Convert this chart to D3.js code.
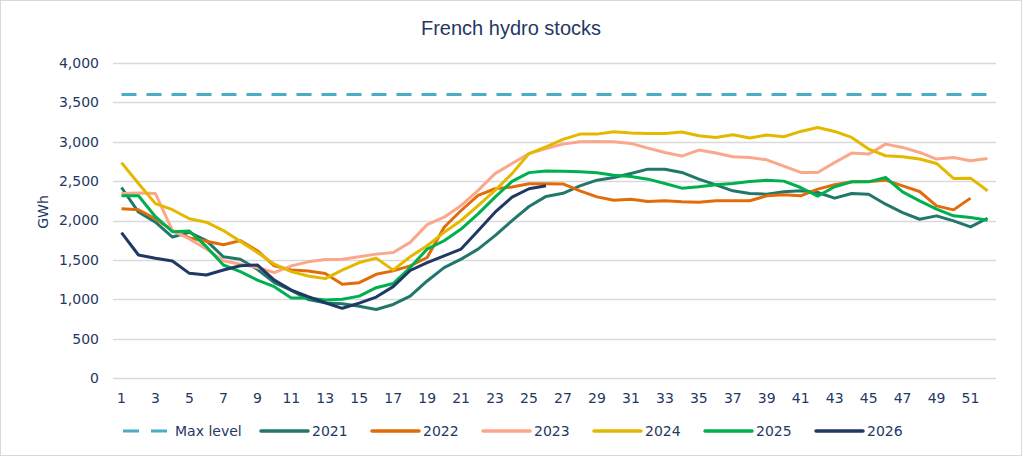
<!DOCTYPE html>
<html>
<head>
<meta charset="utf-8">
<script src="https://cdn.jsdelivr.net/npm/d3@7"></script>
<style>
  body { margin: 0; background: #fff; }
  text { fill: #1f3864; }
</style>
</head>
<body>
<script>
// chart data
var weeks = d3.range(1, 53);
var weekLabels = d3.range(1, 53, 2);
var yTicks = [0, 500, 1000, 1500, 2000, 2500, 3000, 3500, 4000];
var maxLevel = 3600;

var s2021 = [2419, 2107, 1979, 1790, 1851, 1744, 1539, 1509, 1381, 1211, 1112, 997, 954, 942,
  912, 870, 934, 1040, 1232, 1402, 1509, 1636, 1807, 1999, 2178, 2306, 2345,
  2440, 2512, 2546, 2597, 2652, 2652, 2610, 2525, 2453, 2377, 2343, 2334, 2366,
  2377, 2356, 2284, 2343, 2334, 2207, 2101, 2016, 2059, 1995, 1919, 2029];
var s2022 = [2150, 2137, 2022, 1872, 1778, 1736, 1693, 1744, 1616, 1424, 1373, 1360, 1326, 1190,
  1211, 1317, 1360, 1424, 1530, 1914, 2127, 2318, 2403, 2425, 2467, 2467, 2465,
  2377, 2300, 2258, 2271, 2241, 2250, 2237, 2233, 2250, 2250, 2250, 2313, 2326,
  2313, 2398, 2453, 2491, 2496, 2512, 2440, 2368, 2186, 2135, 2284, null];
var s2023 = [2342, 2350, 2342, 1872, 1766, 1637, 1488, 1445, 1403, 1339, 1424, 1475, 1505, 1509,
  1539, 1573, 1594, 1722, 1948, 2042, 2190, 2382, 2595, 2723, 2850, 2915, 2970,
  3000, 3004, 3000, 2979, 2919, 2864, 2818, 2894, 2856, 2809, 2801, 2771, 2690,
  2610, 2610, 2737, 2856, 2843, 2970, 2928, 2864, 2780, 2801, 2758, 2788];
var s2024 = [2735, 2470, 2214, 2137, 2022, 1979, 1872, 1735, 1595, 1445, 1351, 1296, 1262, 1370,
  1466, 1522, 1370, 1539, 1680, 1850, 2000, 2190, 2382, 2595, 2850, 2936, 3030,
  3097, 3097, 3127, 3110, 3106, 3106, 3123, 3076, 3055, 3089, 3047, 3085, 3064,
  3131, 3182, 3131, 3055, 2907, 2822, 2809, 2780, 2724, 2534, 2538, 2377];
var s2025 = [2315, 2315, 2048, 1858, 1866, 1667, 1435, 1350, 1244, 1160, 1016, 1016, 990, 1000,
  1040, 1147, 1200, 1402, 1637, 1743, 1892, 2084, 2297, 2497, 2608, 2629, 2625,
  2618, 2606, 2576, 2559, 2525, 2470, 2411, 2428, 2453, 2470, 2496, 2512, 2500,
  2419, 2310, 2428, 2491, 2491, 2546, 2364, 2250, 2144, 2059, 2038, 2004];
var s2026 = [1845, 1562, 1520, 1486, 1329, 1308, 1371, 1426, 1435, 1244, 1117, 1032, 956, 885,
  950, 1028, 1160, 1365, 1466, 1552, 1637, 1871, 2105, 2297, 2403, 2442];

var seriesNames = ["2021", "2022", "2023", "2024", "2025", "2026"];
var seriesValues = [s2021, s2022, s2023, s2024, s2025, s2026];
var seriesColors = ["#22776b", "#e36c0a", "#fba78c", "#e5b800", "#00b050", "#1f3864"];
var maxColor = "#4bacc6";

var width = 1024;
var height = 457;
var fontFam = "'DejaVu Sans', Verdana, sans-serif";

var svg = d3.select("body")
  .append("svg")
  .attr("width", width)
  .attr("height", height);

// outer frame
svg.append("rect")
  .attr("x", 0.5)
  .attr("y", 0.5)
  .attr("width", 1021)
  .attr("height", 455)
  .style("fill", "#fff")
  .style("stroke", "#d9d9d9");

// scales
var xScale = d3.scaleBand()
  .domain(weeks)
  .range([113, 996])
  .padding(0);

var yScale = d3.scaleLinear()
  .domain([0, 4000])
  .range([378, 63]);

function xPos(w) { return xScale(w) + xScale.bandwidth() / 2; }

// gridlines
svg.append("g")
  .selectAll("line")
  .data(yTicks)
  .join("line")
  .attr("x1", 113)
  .attr("x2", 996)
  .attr("y1", function(d) { return Math.round(yScale(d)) + 0.5; })
  .attr("y2", function(d) { return Math.round(yScale(d)) + 0.5; })
  .style("stroke", "#d9d9d9")
  .style("stroke-width", 1.5);

// axes
var yAxis = d3.axisLeft(yScale)
  .tickValues(yTicks)
  .tickSize(0)
  .tickPadding(14)
  .tickFormat(d3.format(","));

var xAxis = d3.axisBottom(xScale)
  .tickValues(weekLabels)
  .tickSize(0)
  .tickPadding(15);

var gy = svg.append("g")
  .attr("transform", "translate(113,0)")
  .call(yAxis);

var gx = svg.append("g")
  .attr("transform", "translate(0,378)")
  .call(xAxis);

[gx, gy].forEach(function(g) {
  g.select(".domain").remove();
  g.selectAll("text")
    .attr("font-family", fontFam)
    .attr("font-size", "14px")
    .style("fill", "#1f3864");
});

// axis title
svg.append("text")
  .attr("transform", "translate(48,212) rotate(-90)")
  .attr("text-anchor", "middle")
  .attr("font-family", fontFam)
  .attr("font-size", "14px")
  .text("GWh");

// chart title
svg.append("text")
  .attr("x", 511)
  .attr("y", 35)
  .attr("text-anchor", "middle")
  .attr("font-family", "'Liberation Sans Narrow', 'Arial Narrow', sans-serif")
  .attr("font-size", "20px")
  .text("French hydro stocks");

// max level line
svg.append("line")
  .attr("x1", xPos(1))
  .attr("x2", xPos(52))
  .attr("y1", yScale(maxLevel))
  .attr("y2", yScale(maxLevel))
  .style("stroke", maxColor)
  .style("stroke-width", 3)
  .style("stroke-dasharray", "15,10");

// year lines
var line = d3.line()
  .defined(function(d) { return d != null; })
  .x(function(d, i) { return xPos(weeks[i]); })
  .y(function(d) { return yScale(d); });

seriesValues.forEach(function(vals, i) {
  svg.append("path")
    .datum(vals)
    .attr("d", line)
    .style("fill", "none")
    .style("stroke", seriesColors[i])
    .style("stroke-width", 3)
    .style("stroke-linejoin", "round");
});

// legend
var legY = 431;
var lg = svg.append("g");

lg.append("line")
  .attr("x1", 123).attr("x2", 167)
  .attr("y1", legY).attr("y2", legY)
  .style("stroke", maxColor)
  .style("stroke-width", 3)
  .style("stroke-dasharray", "16,12");

lg.append("text")
  .attr("x", 175)
  .attr("y", legY + 5)
  .attr("font-family", fontFam)
  .attr("font-size", "14px")
  .text("Max level");

seriesNames.forEach(function(name, i) {
  var x0 = 261 + i * 111;
  lg.append("line")
    .attr("x1", x0).attr("x2", x0 + 47)
    .attr("y1", legY).attr("y2", legY)
    .style("stroke", seriesColors[i])
    .style("stroke-width", 3.5)
    .style("stroke-linecap", "round");
  lg.append("text")
    .attr("x", x0 + 51)
    .attr("y", legY + 5)
    .attr("font-family", fontFam)
    .attr("font-size", "14px")
    .text(name);
});
</script>
</body>
</html>
